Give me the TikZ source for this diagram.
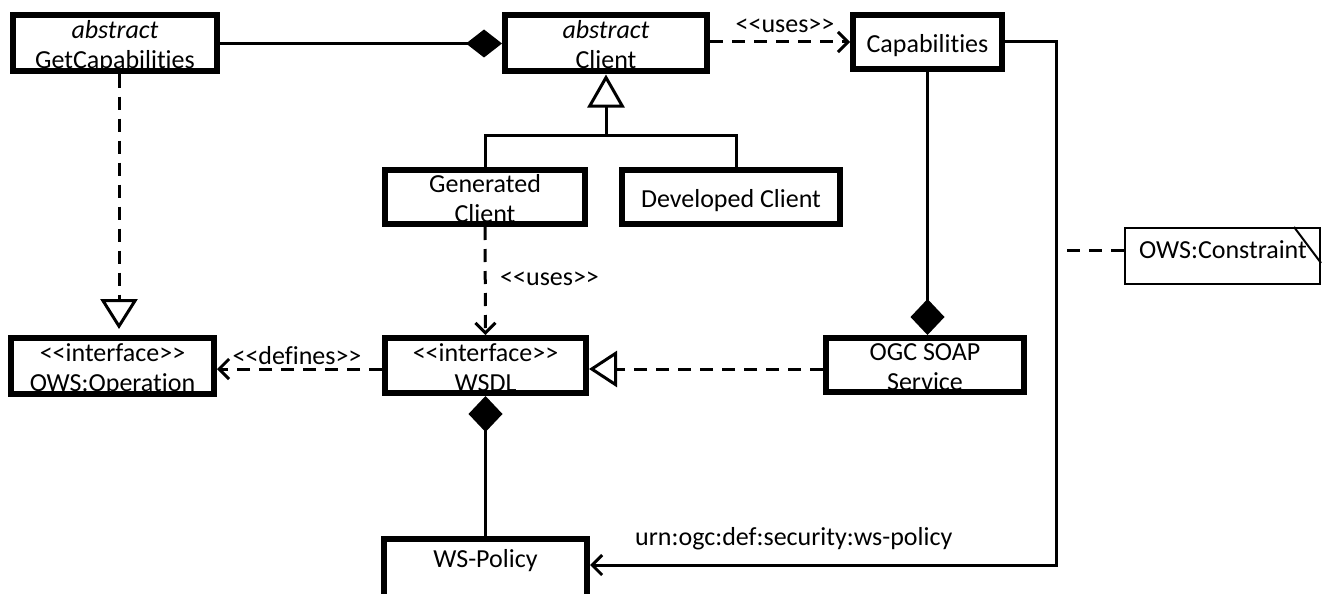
\documentclass[tikz,border=0pt]{standalone}
\usepackage{fontspec}
\setmainfont{Carlito}[Ligatures={TeX,NoCommon}]
\usetikzlibrary{arrows.meta}
\newcommand\stL{<\kern0pt<}
\newcommand\stR{>\kern0pt>}
\begin{document}
\begin{tikzpicture}[x=1pt,y=-1pt,
  font=\fontsize{26}{30}\selectfont,
  box/.style={draw, line width=6pt, align=center, inner sep=0pt, text depth=0pt, text height=21pt},
  boxtwo/.style={box, text height=51pt},
  notebox/.style={draw, line width=2pt, inner sep=0pt},
  conn/.style={line width=3pt},
  dsh/.style={line width=3pt, dash pattern=on 13pt off 9pt},
  barbtip/.style={-{Straight Barb[length=10pt,width=20pt]}},
  tritip/.style={-{Triangle[open,length=#1,width=37pt]}},
  tritip/.default=33pt,
  diatip/.style={-{Diamond[length=#1,width=34pt]}},
  diatip/.default=36pt,
  lbl/.style={inner sep=0pt, anchor=base}
]
\useasboundingbox (0,0) rectangle (1325,594);

% classes
\node[boxtwo, minimum width=204pt, minimum height=56pt] (gc) at (115,43.5) {\textit{abstract}\\GetCapabilities};
\node[boxtwo, minimum width=202pt, minimum height=56pt] (cl) at (606,43.5) {\textit{abstract}\\Client};
\node[box, minimum width=149pt, minimum height=54pt] (cap) at (927.5,42) {Capabilities};
\node[boxtwo, minimum width=200pt, minimum height=54pt] (gen) at (485,197) {Generated\\Client};
\node[box, minimum width=218pt, minimum height=54pt] (dev) at (731,197) {Developed Client};
\node[boxtwo, minimum width=203pt, minimum height=56pt] (op) at (112.5,366) {\stL interface\stR\\OWS:Operation};
\node[boxtwo, minimum width=201pt, minimum height=55pt] (ws) at (485.5,365.5) {\stL interface\stR\\WSDL};
\node[boxtwo, minimum width=198pt, minimum height=54pt] (ogc) at (925,365) {OGC SOAP\\Service};
\node[box, minimum width=203pt, minimum height=62pt] (wp) at (485.5,570) {};
\node[lbl] (wpt) at (485.5,567) {WS-Policy};

% note
\node[notebox, minimum width=195pt, minimum height=56pt] (note) at (1222.5,256) {};
\node[lbl] (notet) at (1223,258) {OWS:Constraint};
\draw[line width=2pt] ([xshift=-27pt]note.north east) -- ([yshift=-36pt]note.north east);

% GetCapabilities composed into Client
\draw[conn, -{Diamond[length=36pt,width=28pt]}] (gc.east) -- (gc.east -| cl.west);

% Client uses Capabilities
\draw[dsh, barbtip] (cl.east |- cap.east) -- (cap.west);
\node[lbl] (u1) at (785,33) {\stL uses\stR};

% generalization of clients
\coordinate (j) at (606,135);
\draw[conn, tritip] (j) -- (cl.south);
\draw[conn] (gen.north) |- (j);
\draw[conn] ([xshift=5pt]dev.north) |- (j);

% Generated Client uses WSDL
\draw[dsh, barbtip] (gen.south) -- (ws.north);
\node[lbl, anchor=base west] (u2) at (500,285) {\stL uses\stR};

% GetCapabilities realizes OWS:Operation
\draw[dsh, tritip=30pt, shorten >=6pt] ([xshift=4pt]gc.south) -- ([xshift=4pt]gc.south |- op.north);

% WSDL defines OWS:Operation, OGC SOAP realizes WSDL
\coordinate (ylev) at (0,369);
\draw[dsh, barbtip] (ws.west |- ylev) -- (op.east |- ylev);
\node[lbl] (d1) at (297,364) {\stL defines\stR};
\draw[dsh, -{Triangle[open,length=28pt,width=36pt]}] (ogc.west |- ylev) -- (ws.east |- ylev);

% Capabilities composed into OGC SOAP Service
\draw[conn, diatip] (cap.south) -- (cap.south |- ogc.north);

% WS-Policy composed into WSDL
\draw[conn, diatip] (wp.north) -- (ws.south);

% Capabilities -> WS-Policy
\coordinate (c1) at (1056,42);
\coordinate (c2) at (1056,565);
\draw[conn, barbtip] (cap.east) -- (c1) -- (c2) -- (c2 -| wp.east);
\node[lbl, anchor=base west] (urn) at (635,545) {urn:ogc:def:security:ws-policy};

% note attachment
\coordinate (nc) at (1067,250);
\draw[dsh] (nc) -- (nc -| note.west);
\end{tikzpicture}
\end{document}
